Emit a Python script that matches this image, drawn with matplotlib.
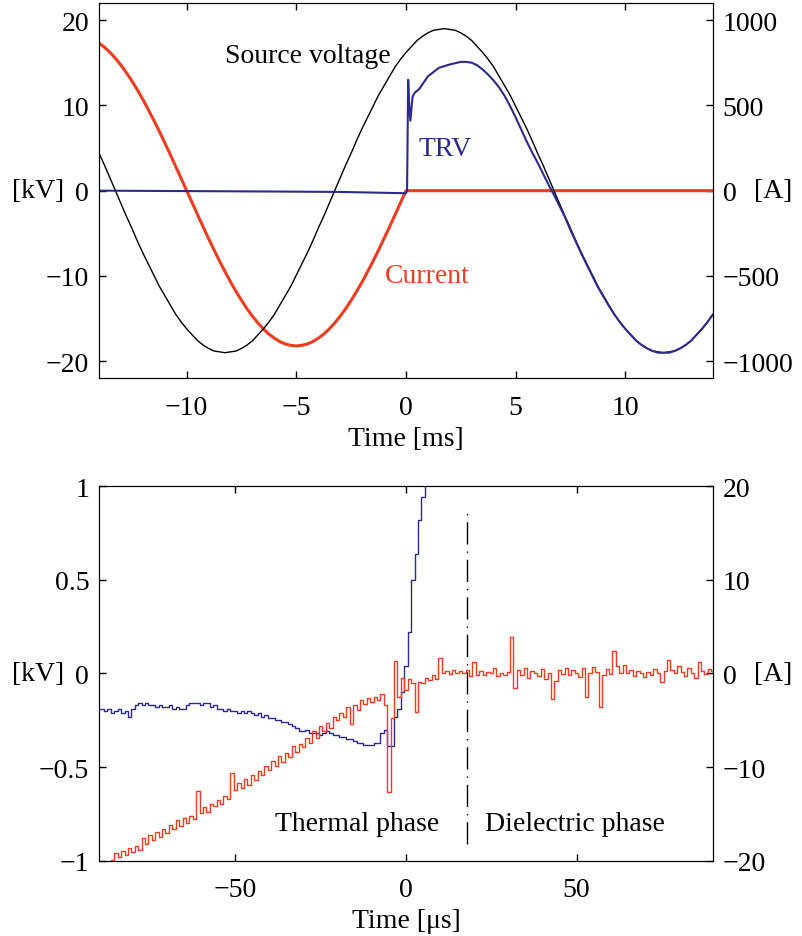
import matplotlib.pyplot as plt

plt.rcParams['font.family'] = ['Liberation Serif', 'DejaVu Serif']
plt.rcParams['font.size'] = 20
plt.rcParams['axes.unicode_minus'] = True

red = "#f03c1e"
blue = "#2b2a8e"

# ---- top panel: whole interruption, time in ms (read every 0.25 ms) ----
t_ms = [i * 0.25 for i in range(-56, 57)]
source_kv = [
    4.4, 3.0, 1.5, 0.0,
    -1.5, -3.0, -4.4, -5.9, -7.3, -8.6, -9.9, -11.2, -12.3, -13.4,
    -14.5, -15.4, -16.2, -16.9, -17.6, -18.1, -18.5, -18.8, -18.9, -19.0,
    -18.9, -18.8, -18.5, -18.1, -17.6, -16.9, -16.2, -15.4, -14.5, -13.4,
    -12.3, -11.2, -9.9, -8.6, -7.3, -5.9, -4.4, -3.0, -1.5, 0.0,
    1.5, 3.0, 4.4, 5.9, 7.3, 8.6, 9.9, 11.2, 12.3, 13.4,
    14.5, 15.4, 16.2, 16.9, 17.6, 18.1, 18.5, 18.8, 18.9, 19.0,
    18.9, 18.8, 18.5, 18.1, 17.6, 16.9, 16.2, 15.4, 14.5, 13.4,
    12.3, 11.2, 9.9, 8.6, 7.3, 5.9, 4.4, 3.0, 1.5, 0.0,
    -1.5, -3.0, -4.4, -5.9, -7.3, -8.6, -9.9, -11.2, -12.3, -13.4,
    -14.5, -15.4, -16.2, -16.9, -17.6, -18.1, -18.5, -18.8, -18.9, -19.0,
    -18.9, -18.8, -18.5, -18.1, -17.6, -16.9, -16.2, -15.4, -14.5]
current_a = [
    865, 841, 811, 776, 736, 692, 643, 591, 535, 475, 413, 348, 281, 212,
    142, 71, 0, -71, -142, -212, -281, -348, -413, -475, -535, -591, -643,
    -692, -736, -776, -811, -841, -865, -885, -899, -907, -910, -907, -899,
    -885, -865, -841, -811, -776, -736, -692, -643, -591, -535, -475, -413,
    -348, -281, -212, -142, -71, 0,
    0, 0, 0, 0, 0, 0, 0, 0, 0, 0, 0, 0, 0, 0, 0, 0, 0, 0, 0, 0, 0, 0, 0, 0,
    0, 0, 0, 0, 0, 0, 0, 0, 0, 0, 0, 0, 0, 0, 0, 0, 0, 0, 0, 0, 0, 0, 0, 0,
    0, 0, 0, 0, 0, 0, 0, 0]

t_trv_ms = [-14, -10, -6, -3, -1, 0, 0.05, 0.1, 0.15, 0.2, 0.3, 0.4, 0.6, 1.0,
            1.5, 2.0, 2.5, 2.75, 3.0, 3.25, 3.5, 3.75, 4.0, 4.25, 4.5, 4.75,
            5.0, 5.25, 5.5, 5.75, 6.0, 6.25, 6.5, 6.75,
            7.0, 7.25, 7.5, 7.75, 8.0, 8.25, 8.5, 8.75, 9.0, 9.25, 9.5, 9.75,
            10.0, 10.25, 10.5, 10.75, 11.0, 11.25, 11.5, 11.75, 12.0, 12.25,
            12.5, 12.75, 13.0, 13.25, 13.5, 13.75, 14.0]
trv_kv = [0.0, -0.05, -0.1, -0.15, -0.25, -0.3, 0.0, 13.0, 10.0, 8.2, 11.0, 11.5,
          11.9, 13.4, 14.4, 14.8, 15.1, 15.1, 15.0, 14.7, 14.2, 13.6, 12.9,
          12.1, 11.1, 9.9, 8.6, 7.2, 5.8, 4.5, 3.3, 2.0, 0.7, -0.5,
          -1.8, -3.1, -4.6, -6.0, -7.4, -8.7, -10.0, -11.3, -12.4, -13.5,
          -14.5, -15.4, -16.2, -16.9, -17.6, -18.1, -18.5, -18.8, -19.0, -19.0,
          -19.0, -18.8, -18.5, -18.1, -17.6, -16.9, -16.2, -15.4, -14.5]

# ---- bottom panel: around current zero, time in us ----
t_us = list(range(-90, 91))
current_us = [
    -21.0, -20.8, -20.6, -20.9, -19.9, -19.2, -19.6, -19.0, -19.4, -18.6,
    -19.1, -18.4, -18.9, -17.6, -18.2, -17.3, -17.8, -16.9, -17.5, -16.6,
    -17.0, -16.2, -16.6, -15.7, -16.3, -15.4, -16.0, -15.2, -15.6, -12.6,
    -14.9, -14.3, -14.8, -13.9, -14.2, -13.5, -13.9, -13.1, -13.4, -10.6,
    -12.5, -11.7, -12.2, -11.3, -11.9, -10.8, -11.4, -10.4, -10.9, -9.9,
    -10.3, -9.4, -9.9, -8.8, -9.5, -8.5, -8.9, -7.8, -8.4, -7.5,
    -7.9, -6.9, -7.4, -6.2, -6.9, -5.6, -6.1, -5.3, -5.8, -4.6,
    -5.0, -4.2, -4.7, -3.6, -5.4, -3.4, -3.9, -2.8, -3.3, -2.6,
    -3.0, -2.5, -2.8, -2.2, -3.4, -12.7, -4.8, 1.3, -2.5, -0.5,
    -1.8, -0.6, -1.0, -4.1, -0.9, -1.0, -0.5, -0.7, -0.2, -0.6,
    1.6, 0.1, 0.3, -0.1, 0.4, 0.0, 0.3, 0.1, 0.4, -0.3,
    1.2, -0.2, 0.3, -0.2, 0.2, 0.0, 0.6, -0.3, 0.1, -0.2,
    0.2, 3.9, -1.6, 0.4, -0.2, 0.6, -0.5, 0.3, 0.0, -0.3,
    0.5, -0.6, 0.1, -2.7, -0.8, 0.4, -0.1, 0.6, -0.2, 0.4,
    0.1, -0.4, 0.6, -2.5, 0.1, 0.7, 0.2, -3.6, -0.2, 0.5,
    -0.1, 2.4, 0.8, 0.1, 0.9, 0.0, 0.4, -0.3, 0.3, 0.0,
    -0.4, 0.2, -0.2, 0.5, 0.0, -0.9, 0.3, 1.4, 0.4, 0.0,
    0.8, 0.2, -0.3, 0.6, 0.1, -0.5, 1.2, 0.3, -0.1, 0.5,
    0.3]

t_trv_us = list(range(-90, 8))
trv_us = [
    -0.19, -0.19, -0.20, -0.19, -0.21, -0.20, -0.19, -0.21, -0.20, -0.23,
    -0.19, -0.17, -0.16, -0.17, -0.16, -0.17, -0.17, -0.18, -0.17, -0.18,
    -0.18, -0.17, -0.19, -0.18, -0.19, -0.19, -0.17, -0.16, -0.16, -0.16,
    -0.17, -0.16, -0.16, -0.18, -0.17, -0.19, -0.19, -0.20, -0.19, -0.20,
    -0.20, -0.21, -0.20, -0.21, -0.20, -0.21, -0.22, -0.21, -0.23, -0.22,
    -0.24, -0.24, -0.25, -0.25, -0.26, -0.26, -0.27, -0.28, -0.29, -0.31,
    -0.31, -0.30, -0.32, -0.32, -0.32, -0.33, -0.32, -0.31, -0.32, -0.33,
    -0.33, -0.34, -0.34, -0.35, -0.35, -0.36, -0.37, -0.37, -0.38, -0.38,
    -0.38, -0.37, -0.37, -0.32, -0.30, -0.39, -0.39, -0.23, -0.19, -0.10,
    0.04, 0.22, 0.50, 0.64, 0.82, 0.94, 1.10, 1.30]

phase_boundary_us = 18

fig = plt.figure(figsize=(8.02, 9.37), dpi=100)
ax1 = fig.add_axes([0.1234, 0.5952, 0.7656, 0.4005])
ax1r = ax1.twinx()
ax2 = fig.add_axes([0.1234, 0.0804, 0.7656, 0.3996])
ax2r = ax2.twinx()

ax1.plot(t_ms, source_kv, color="black", lw=1.0)
ax1.plot(t_trv_ms, trv_kv, color=blue, lw=1.5)
ax1r.plot(t_ms, current_a, color=red, lw=2.2)
ax1r.set_zorder(ax1.get_zorder() - 1)
ax1.patch.set_visible(False)

ax1.set_xlim(-14, 14)
ax1.set_ylim(-22, 22)
ax1r.set_ylim(-1100, 1100)
ax1.set_xticks([-10, -5, 0, 5, 10])
ax1.set_yticks([-20, -10, 0, 10, 20])
ax1r.set_yticks([-1000, -500, 0, 500, 1000])
ax1.set_xlabel("Time [ms]", labelpad=4)

ax1.text(-4.48, 15.8, "Source voltage", ha="center", va="center", color="black")
ax1.text(1.8, 4.9, "TRV", ha="center", va="center", color=blue)
ax1.text(0.98, -10.0, "Current", ha="center", va="center", color=red)

ax2r.step(t_us, current_us, where="mid", color=red, lw=1.0)
ax2.step(t_trv_us, trv_us, where="mid", color=blue, lw=1.0)
ax2.plot([phase_boundary_us, phase_boundary_us], [-0.91, 0.87], color="black",
         lw=1.0, linestyle=(0, (16, 5, 1, 5)))

ax2.set_xlim(-90, 90)
ax2.set_ylim(-1, 1)
ax2r.set_ylim(-20, 20)
ax2.set_xticks([-50, 0, 50])
ax2.set_yticks([-1, -0.5, 0, 0.5, 1])
ax2.set_yticklabels(["\u22121", "\u22120.5", "0", "0.5", "1"])
ax2r.set_yticks([-20, -10, 0, 10, 20])
ax2.set_xlabel("Time [\u03bcs]", labelpad=4)

ax2.text(-14.3, -0.80, "Thermal phase", ha="center", va="center")
ax2.text(49.5, -0.80, "Dielectric phase", ha="center", va="center")

for a in (ax1, ax2):
    a.set_ylabel("[kV]", rotation=0, va="center", ha="center")
    a.yaxis.set_label_coords(-0.099, 0.5)
    a.tick_params(direction="in", top=True, length=5, width=1, pad=7)
    a.tick_params(axis="x", pad=12)
for a in (ax1r, ax2r):
    a.set_ylabel("[A]", rotation=0, va="center", ha="center")
    a.yaxis.set_label_coords(1.098, 0.5)
    a.tick_params(direction="in", length=5, width=1, pad=7)

fig.savefig("out.png", dpi=100)
